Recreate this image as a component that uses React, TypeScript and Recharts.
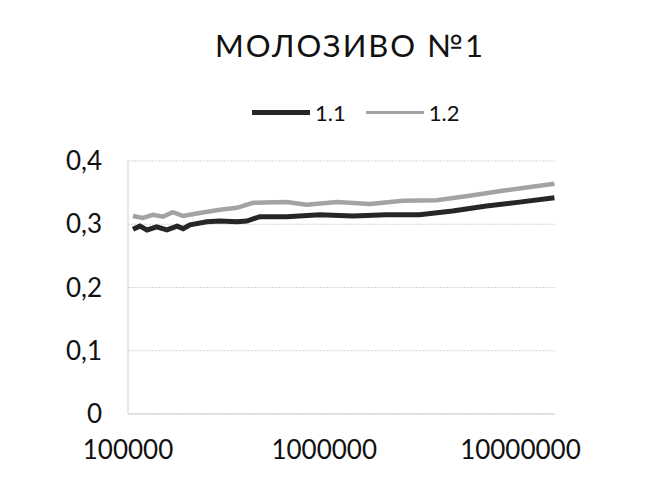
import { LineChart, Line, XAxis, YAxis, CartesianGrid, Legend } from "recharts";

const TITLE = "МОЛОЗИВО №1";
const SERIES_NAMES = ["1.1", "1.2"];
const SERIES_COLORS = ["#262626", "#a3a3a3"];
const X_TICKS = [100000, 1000000, 10000000];
const Y_TICKS = [0, 0.1, 0.2, 0.3, 0.4];

// 1.1 (black line) — frequency / value
const freq11 = [106000, 115000, 125000, 140000, 158000, 178000, 191000, 207000, 252000, 294000, 359000, 403000, 470000, 644000, 949000, 1400000, 2080000, 3060000, 4510000, 6710000, 9890000, 14900000];
const val11 = [0.292, 0.297, 0.291, 0.296, 0.291, 0.297, 0.293, 0.299, 0.304, 0.305, 0.304, 0.305, 0.312, 0.312, 0.315, 0.313, 0.315, 0.315, 0.321, 0.329, 0.335, 0.342];

// 1.2 (grey line)
const freq12 = [106000, 119000, 134000, 151000, 169000, 191000, 224000, 294000, 359000, 433000, 644000, 815000, 1160000, 1710000, 2510000, 3740000, 5500000, 8100000, 14900000];
const val12 = [0.313, 0.31, 0.315, 0.312, 0.319, 0.313, 0.317, 0.323, 0.326, 0.334, 0.335, 0.331, 0.335, 0.332, 0.337, 0.338, 0.345, 0.353, 0.364];

const data11 = freq11.map((x, i) => ({ x, y: val11[i] }));
const data12 = freq12.map((x, i) => ({ x, y: val12[i] }));

const FONT = "Lato, 'Open Sans', sans-serif";

function LegendBox({ payload }: { payload?: { value: string; color: string }[] }) {
  return (
    <div style={{ display: "flex", alignItems: "center", height: 30, fontFamily: FONT, fontSize: 22, color: "#111" }}>
      {(payload ?? []).map((p, i) => (
        <div key={p.value} style={{ display: "flex", alignItems: "center", marginLeft: i ? 20 : 0 }}>
          <span style={{ width: 58, height: i ? 3 : 5, background: p.color, display: "inline-block" }} />
          <span style={{ marginLeft: 5 }}>{p.value}</span>
        </div>
      ))}
    </div>
  );
}

export default function App() {
  return (
    <div style={{ position: "absolute", left: 0, top: 0, width: 652, height: 502, background: "#fff" }}>
      <div
        style={{
          position: "absolute",
          left: 0,
          width: 700,
          top: 30,
          textAlign: "center",
          fontFamily: FONT,
          fontSize: 31,
          lineHeight: "30px",
          letterSpacing: 2,
          color: "#111",
        }}
      >
        {TITLE}
      </div>
      <LineChart width={652} height={502} margin={{ top: 161, right: 97, left: 0, bottom: 28 }}>
        <CartesianGrid vertical={false} stroke="#d6d6d6" strokeDasharray="2 1" />
        <XAxis
          dataKey="x"
          type="number"
          scale="log"
          domain={[100000, 15000000]}
          ticks={X_TICKS}
          allowDataOverflow
          axisLine={{ stroke: "#cfcfcf" }}
          tickLine={false}
          tickMargin={21}
          height={60}
          tick={{ fontSize: 26, fill: "#111", fontFamily: FONT }}
        />
        <YAxis
          type="number"
          domain={[0, 0.4]}
          ticks={Y_TICKS}
          width={128}
          axisLine={{ stroke: "#cfcfcf" }}
          tickLine={false}
          tickSize={0}
          tickMargin={26}
          tickFormatter={(v: number) => String(v).replace(".", ",")}
          tick={{ fontSize: 26, fill: "#111", fontFamily: FONT }}
        />
        <Legend
          layout="horizontal"
          verticalAlign="middle"
          align="center"
          wrapperStyle={{ top: 97, left: 252, width: 260 }}
          content={(props: any) => <LegendBox payload={props.payload} />}
        />
        <Line
          data={data11}
          dataKey="y"
          name={SERIES_NAMES[0]}
          stroke={SERIES_COLORS[0]}
          strokeWidth={5}
          dot={false}
          type="linear"
          isAnimationActive={false}
        />
        <Line
          data={data12}
          dataKey="y"
          name={SERIES_NAMES[1]}
          stroke={SERIES_COLORS[1]}
          strokeWidth={4.5}
          dot={false}
          type="linear"
          isAnimationActive={false}
        />
      </LineChart>
    </div>
  );
}
